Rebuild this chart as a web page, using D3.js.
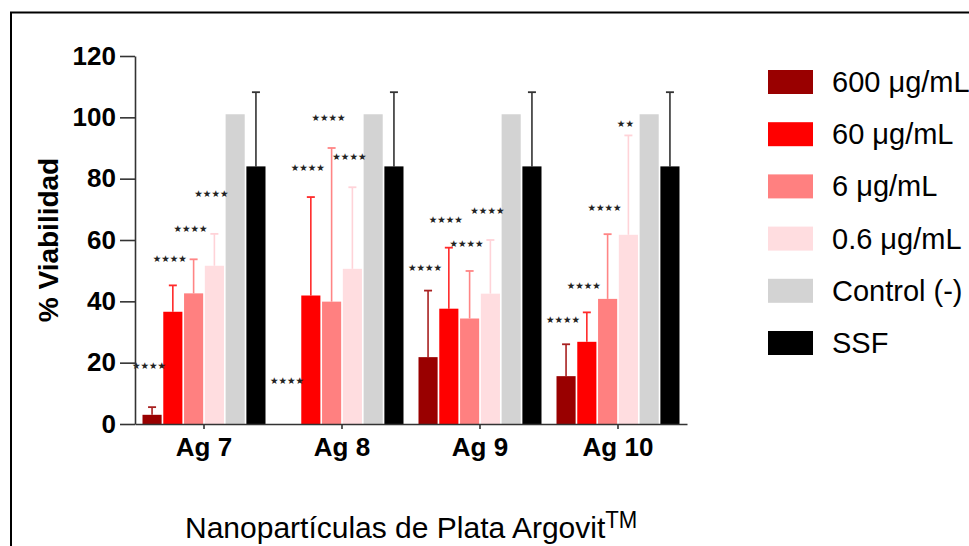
<!DOCTYPE html>
<html>
<head>
<meta charset="utf-8">
<script src="https://cdn.jsdelivr.net/npm/d3@7"></script>
<style>
  body { margin: 0; background: #fff; }
  svg { display: block; font-family: "Liberation Sans", Arial, sans-serif; }
</style>
</head>
<body>
<svg id="chart" width="969" height="546"></svg>
<script>
// data
const groups = ["Ag 7", "Ag 8", "Ag 9", "Ag 10"];
const series = ["600 \u03bcg/mL", "60 \u03bcg/mL", "6 \u03bcg/mL", "0.6 \u03bcg/mL", "Control (-)", "SSF"];
const colors = ["#990000", "#ff0000", "#ff8080", "#ffdde0", "#d3d3d3", "#000000"];
const errColors = ["#a82020", "#ff2a2a", "#ff8585", "#ffd3d8", "#d3d3d3", "#333333"];

// mean viability per group, one value per series
const means = [
  [3, 36.6, 42.6, 51.6, 101, 84],
  [0, 41.9, 39.9, 50.6, 101, 84],
  [21.8, 37.6, 34.4, 42.5, 101, 84],
  [15.6, 26.8, 40.8, 61.7, 101, 84]
];
// top of error bar (null = none drawn)
const errTops = [
  [5.5, 45.2, 53.7, 62, null, 108.2],
  [null, 74, 90, 77.2, null, 108.2],
  [43.5, 57.5, 49.9, 60, null, 108.2],
  [26, 36.4, 61.9, 94.1, null, 108.2]
];
// significance marks for first four series, and the level they sit at
const sigText = [
  ["****", "****", "****", "****"],
  ["****", "****", "****", "****"],
  ["****", "****", "****", "****"],
  ["****", "****", "****", "**"]
];
const sigLevel = [
  [18.6, 53.8, 63.3, 75],
  [13.7, 83.2, 99.5, 86.8],
  [50.6, 66.2, 58.4, 69.2],
  [33.9, 44.7, 70.2, 97.6]
];
const yTicks = [0, 20, 40, 60, 80, 100, 120];

const svg = d3.select("#chart");

// outer frame
svg.append("rect")
  .attr("x", 11).attr("y", 12.5)
  .attr("width", 1000).attr("height", 600)
  .attr("fill", "none").attr("stroke", "#000").attr("stroke-width", 2);

const x0 = d3.scaleBand().domain(groups).range([135, 687]);
const x1 = d3.scaleBand().domain(d3.range(series.length)).range([7.5, 130.5]).paddingInner(0.08);
const y = d3.scaleLinear().domain([0, 120]).range([424, 56]);

// bars
const g = svg.append("g");
const grp = g.selectAll("g.grp").data(groups).join("g")
  .attr("class", "grp")
  .attr("transform", d => `translate(${x0(d)},0)`);

grp.each(function(name, gi) {
  const sel = d3.select(this);
  const rows = means[gi].map((v, si) => ({ v, si, e: errTops[gi][si] }));

  // error bars first (upward only)
  rows.filter(r => r.e != null).forEach(r => {
    const cx = x1(r.si) + x1.bandwidth() / 2;
    sel.append("line")
      .attr("x1", cx).attr("x2", cx)
      .attr("y1", y(r.v)).attr("y2", y(r.e))
      .attr("stroke", errColors[r.si]).attr("stroke-width", 1.6);
    sel.append("line")
      .attr("x1", cx - 4).attr("x2", cx + 4)
      .attr("y1", y(r.e)).attr("y2", y(r.e))
      .attr("stroke", errColors[r.si]).attr("stroke-width", 1.8);
  });

  sel.selectAll("rect").data(rows).join("rect")
    .attr("x", r => x1(r.si))
    .attr("y", r => y(r.v))
    .attr("width", x1.bandwidth())
    .attr("height", r => y(0) - y(r.v))
    .attr("fill", r => colors[r.si]);

  sel.selectAll("text.sig").data(sigText[gi]).join("text")
    .attr("class", "sig")
    .attr("x", (t, si) => x1(si) + x1.bandwidth() / 2 - 3)
    .attr("y", (t, si) => y(sigLevel[gi][si]))
    .attr("text-anchor", "middle")
    .attr("dominant-baseline", "middle")
    .attr("font-family", "DejaVu Sans")
    .attr("font-size", 9.5)
    .attr("fill", "#222")
    .text(t => t.replace(/\*/g, "\u2605"));
});

// y axis
const yAxis = svg.append("g")
  .attr("transform", "translate(135,0)")
  .call(d3.axisLeft(y).tickValues(yTicks).tickSize(15).tickSizeOuter(0).tickPadding(4));
yAxis.selectAll("text")
  .attr("font-size", 26).attr("font-weight", "bold")
  .attr("font-family", "Liberation Sans, Arial, sans-serif").attr("fill", "#000");

// x axis
const xAxis = svg.append("g")
  .attr("transform", "translate(0,424)")
  .call(d3.axisBottom(x0).tickSize(5).tickSizeOuter(0).tickPadding(9));
xAxis.selectAll("text")
  .attr("font-size", 26).attr("font-weight", "bold")
  .attr("font-family", "Liberation Sans, Arial, sans-serif").attr("fill", "#000");

svg.selectAll(".domain, .tick line").attr("stroke", "#333").attr("stroke-width", 1.6);

// axis titles
svg.append("text")
  .attr("transform", "translate(58,240) rotate(-90)")
  .attr("text-anchor", "middle")
  .attr("font-size", 28).attr("font-weight", "bold")
  .text("% Viabilidad");

const xt = svg.append("text")
  .attr("x", 185).attr("y", 538)
  .attr("font-size", 30);
xt.append("tspan").text("Nanopart\u00edculas de Plata Argovit");
xt.append("tspan").attr("dy", -10).attr("font-size", 24)
  .attr("textLength", 32).attr("lengthAdjust", "spacingAndGlyphs").text("TM");

// legend
const leg = svg.append("g").attr("transform", "translate(768,70)");
const li = leg.selectAll("g").data(series).join("g")
  .attr("transform", (d, i) => `translate(0,${i * 52.2})`);
li.append("rect")
  .attr("width", 45).attr("height", 24)
  .attr("fill", (d, i) => colors[i]);
li.append("text")
  .attr("x", 64).attr("y", 22)
  .attr("font-size", 29)
  .text(d => d);
</script>
</body>
</html>
